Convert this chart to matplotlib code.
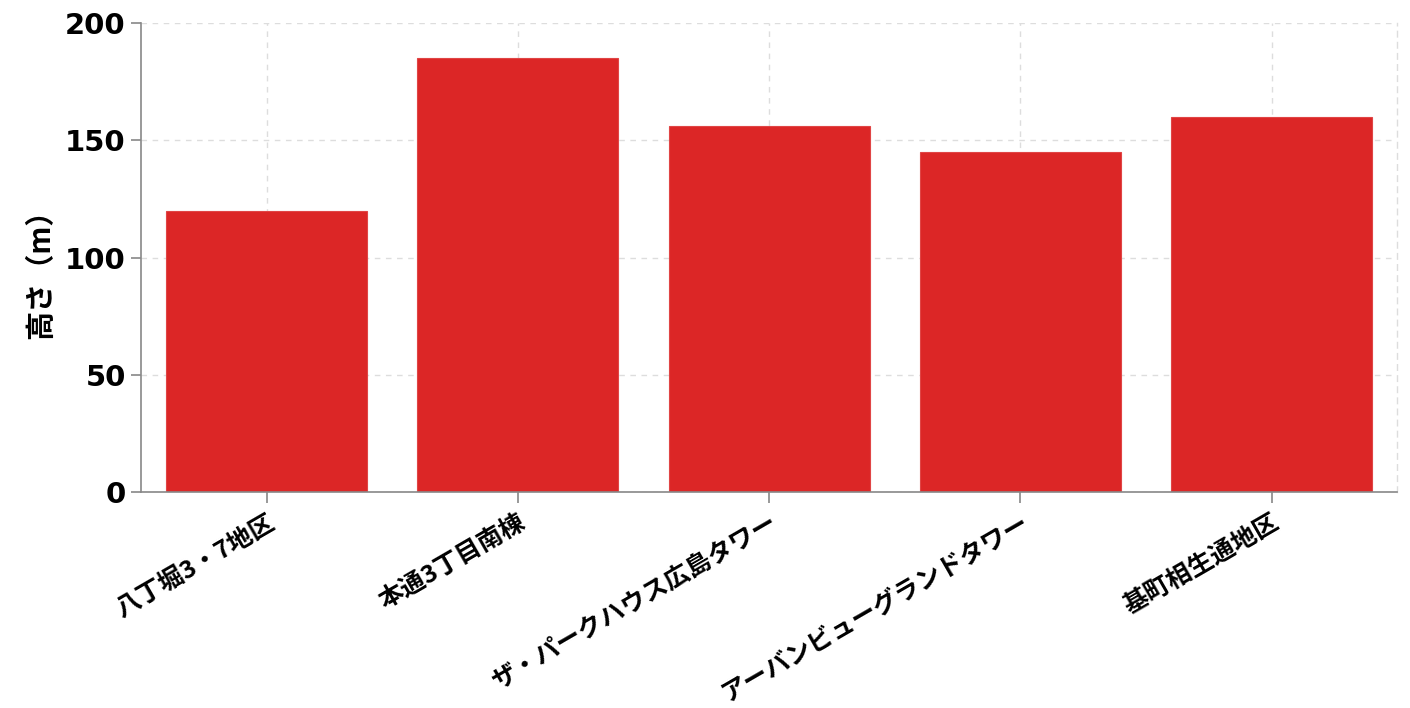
import matplotlib
matplotlib.use('Agg')
import matplotlib.pyplot as plt

plt.rcParams['font.family'] = ['Noto Sans CJK JP', 'DejaVu Sans']

buildings = ['八丁堀3・7地区', '本通3丁目南棟', 'ザ・パークハウス広島タワー',
             'アーバンビューグランドタワー', '基町相生通地区']
heights = [120, 185, 156, 145, 160]
y_ticks = [0, 50, 100, 150, 200]

fig = plt.figure(figsize=(14.1, 7.08), dpi=100)
ax = fig.add_axes([0.100, 0.305, 0.891, 0.6625])

x = list(range(len(buildings)))
ax.bar(x, heights, width=0.8, color='#DC2626', edgecolor='#E04545', linewidth=0.8, zorder=2)

ax.set_xlim(-0.5, len(buildings) - 0.5)
ax.set_ylim(0, 200)
ax.set_yticks(y_ticks)
ax.set_xticks(x)
ax.set_xticklabels(buildings, rotation=30, ha='right', rotation_mode='anchor',
                   fontsize=18, fontweight='bold')
ax.set_yticklabels([str(v) for v in y_ticks], fontsize=21, fontweight='bold',
                   family='DejaVu Sans')

ax.set_ylabel('高さ（m）', fontsize=21, fontweight='bold')
ax.yaxis.set_label_coords(-0.068, 0.48)

ax.grid(True, linestyle=(0, (4, 4)), color='#dddddd', linewidth=1, zorder=0)
ax.set_axisbelow(True)

for side in ['left', 'bottom']:
    ax.spines[side].set_color('#888888')
    ax.spines[side].set_linewidth(1.2)
ax.spines['top'].set_visible(False)
ax.spines['right'].set_linestyle((0, (4, 4)))
ax.spines['right'].set_color('#dddddd')
ax.spines['right'].set_linewidth(1)

ax.tick_params(axis='y', length=7, color='#888888', width=1.2, pad=4)
ax.tick_params(axis='x', length=8, color='#888888', width=1.2, pad=5)

fig.savefig('out.png', dpi=100)
